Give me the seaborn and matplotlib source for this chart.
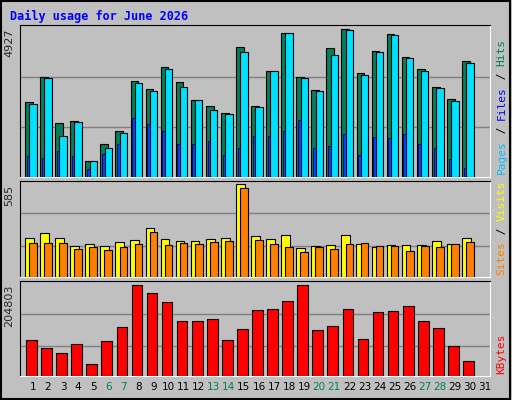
import numpy as np
import pandas as pd
import matplotlib
matplotlib.use("Agg")
import matplotlib.pyplot as plt
import seaborn as sns

days = list(range(1, 32))
hits = [2486, 3333, 1784, 1851, 546, 1115, 1516, 3200, 2921, 3668, 3155, 2564, 2352, 2118, 4325,
        2352, 3534, 4794, 3333, 2899, 4292, 4927, 3467, 4192, 4771, 3991, 3590, 2988, 2586, 3857]
files = [2419, 3289, 1349, 1817, 546, 981, 1449, 3122, 2854, 3590, 2988, 2564, 2218, 2085, 4158,
         2319, 3534, 4794, 3289, 2854, 4058, 4894, 3389, 4158, 4727, 3958, 3523, 2954, 2520, 3790]
pages = [714, 647, 881, 714, 279, 780, 1115, 1951, 1750, 1516, 1115, 1115, 1182, 747, 981,
         1349, 1349, 1516, 1884, 981, 1048, 1416, 747, 1316, 1282, 1416, 1115, 981, 613, 312]
sites = [243, 275, 243, 192, 205, 192, 218, 230, 306, 237, 224, 224, 237, 243, 585,
         256, 237, 262, 180, 192, 199, 262, 205, 186, 199, 199, 199, 224, 205, 243]
visits = [211, 211, 211, 173, 186, 167, 186, 205, 281, 199, 211, 205, 218, 224, 560,
          230, 205, 186, 154, 186, 173, 205, 211, 192, 192, 161, 192, 186, 205, 218]
kbytes = [81478, 63538, 52325, 72508, 27658, 79235, 110630, 204803, 186875, 166693, 124085, 124085,
          128570, 81478, 106145, 148753, 150995, 168935, 204803, 103903, 112873, 150995, 83720,
          144268, 146510, 157723, 124085, 108388, 68023, 34385]
weekend = [6, 7, 13, 14, 20, 21, 27, 28]

BG = "#C0C0C0"
sns.set_style("white", {"axes.facecolor": BG, "figure.facecolor": BG})
plt.rcParams['font.family'] = ['DejaVu Sans Mono', 'DejaVu Sans']

fig = plt.figure(figsize=(5.12, 4.0), dpi=100)
W, H = 512, 400

def add_ax(top, bottom):
    return fig.add_axes([20 / W, 1 - bottom / H, 470 / W, (bottom - top) / H])

ax1 = add_ax(25, 177)
ax2 = add_ax(180.5, 276.7)
ax3 = add_ax(280.5, 376)

d = np.arange(1, 31)
kw = dict(edgecolor="black", linewidth=0.8)
ax1.bar(d - 0.27, hits, width=0.51, color="#00805C", **kw, zorder=3)
ax1.bar(d, files, width=0.49, color="#00E0FF", **kw, zorder=4)
ax1.bar(d - 0.33, pages, width=0.17, color="#0040FF", edgecolor="black", linewidth=0.5, zorder=5)
ax1.set_ylim(0, 5060)

ax2.bar(d - 0.24, sites, width=0.58, color="#FFFF00", **kw, zorder=3)
ax2.bar(d - 0.0, visits, width=0.51, color="#FF8000", **kw, zorder=4)
ax2.set_ylim(0, 610)

kb = pd.DataFrame({"day": d - 0.1, "kbytes": kbytes})
sns.barplot(data=kb, x="day", y="kbytes", native_scale=True, width=0.71, color="#FF0000",
            saturation=1, edgecolor="black", linewidth=0.8, ax=ax3, zorder=3)
ax3.set_ylim(0, 213800)

for ax, ymax, top_val, fr in [(ax1, 5060, 4927, (0.327, 0.66)), (ax2, 610, 585, (0.315, 0.66)),
                              (ax3, 213800, 204803, (0.31, 0.65))]:
    ax.set_xlim(0.14, 31.33)
    for f in fr:
        ax.axhline(ymax * f, color="#808080", linewidth=1, zorder=1)
    ax.set_xticks([])
    ax.set_yticks([])
    ax.set_xlabel("")
    ax.set_ylabel("")
    for s in ["top", "left"]:
        ax.spines[s].set_color("black")
    for s in ["bottom", "right"]:
        ax.spines[s].set_color("white")
    ax.text(-0.012, top_val / ymax, str(top_val), transform=ax.transAxes, rotation=90,
            ha="right", va="top", fontsize=8, family="DejaVu Sans")

for day in days:
    c = "#00805C" if day in weekend else "black"
    ax3.text(day, -0.06, str(day), transform=ax3.get_xaxis_transform(), ha="center", va="top",
             fontsize=7.5, color=c, family="DejaVu Sans")

fig.text(10 / W, 1 - 16 / H, "Daily usage for June 2026", color="#0000FF", fontsize=8.5,
         fontweight="bold", va="center")

def right_label(ax, parts):
    y = 0.02
    for txt, col in parts:
        t = ax.text(1.025, y, txt, transform=ax.transAxes, rotation=90, ha="center", va="bottom",
                    fontsize=8, color=col)
        fig.canvas.draw()
        bb = t.get_window_extent().transformed(ax.transAxes.inverted())
        y = bb.y1

right_label(ax1, [("Pages", "#00C0FF"), (" / ", "black"), ("Files", "#0000FF"),
                  (" / ", "black"), ("Hits", "#00805C")])
right_label(ax2, [("Sites", "#FF8000"), (" / ", "black"), ("Visits", "#FFFF00")])
right_label(ax3, [("KBytes", "#FF0000")])

fig.patches.append(plt.Rectangle((0.002, 0.003), 0.995, 0.994, transform=fig.transFigure,
                                 fill=False, edgecolor="black", linewidth=1.5))
fig.savefig("out.png", dpi=100, facecolor=BG)
